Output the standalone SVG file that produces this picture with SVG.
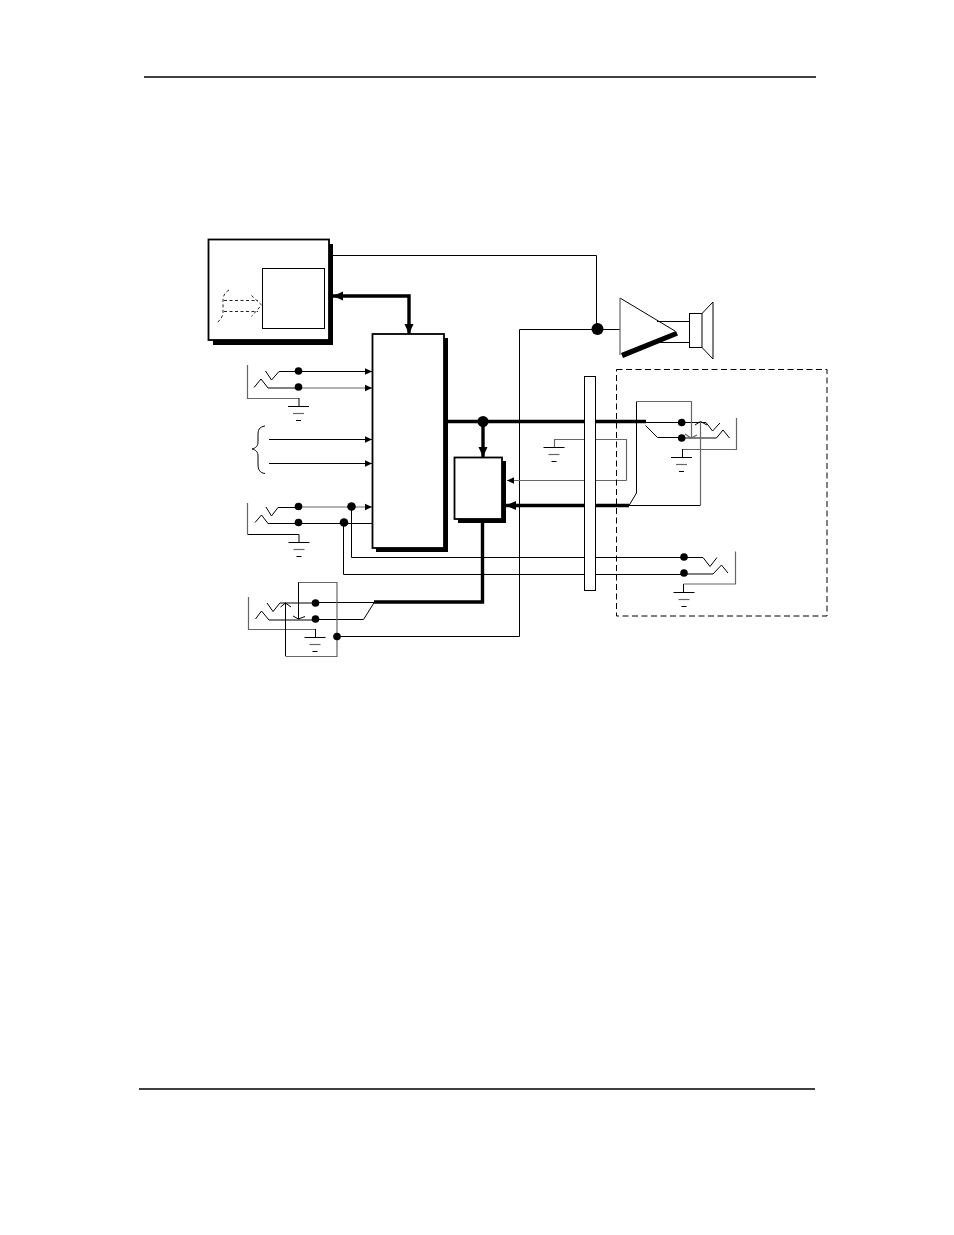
<svg xmlns="http://www.w3.org/2000/svg" width="954" height="1235" viewBox="0 0 954 1235">
<style>
.k{fill:none;stroke:#000;stroke-width:1}
.g{fill:none;stroke:#666;stroke-width:1.2}
.t{fill:none;stroke:#000;stroke-width:3.4}
.box{fill:#fff;stroke:#000;stroke-width:1.8}
.thin{fill:#fff;stroke:#000;stroke-width:1}
.sh{fill:#000}
.d{fill:#000}
.da{fill:none;stroke:#000;stroke-width:1;stroke-dasharray:6 3.500}
.du{fill:none;stroke:#222;stroke-width:1;stroke-dasharray:3 2.500}
</style>
<defs>
<marker id="a" markerUnits="userSpaceOnUse" markerWidth="8" markerHeight="8" refX="7" refY="4" orient="auto"><path d="M0 .8L7 4L0 7.2Z" fill="#000"/></marker>
<marker id="b" markerUnits="userSpaceOnUse" markerWidth="11" markerHeight="10" refX="10" refY="5" orient="auto-start-reverse"><path d="M0 .5L10 5L0 9.500Z" fill="#000"/></marker>
<g id="gnd"><path class="k" d="M-10.500 0H10.500"/><path class="g" d="M-5.500 7H5.500"/><path class="k" d="M-2.500 14H2.500"/></g>
</defs>
<rect width="954" height="1235" fill="#fff"/>
<g id="page-rules">
<path class="k" style="stroke-width:1.600" d="M144 77H816"/>
<path class="k" style="stroke-width:1.600" d="M139 1089H815"/>
</g>
<g id="connectors">
<path class="k" d="M333 255.500H596.500V328"/>
<path class="k" d="M519.500 636.500V329.500H620"/>
<path class="t" marker-start="url(#b)" marker-end="url(#b)" d="M333 296H409V334"/>
<path class="k" marker-end="url(#a)" d="M298 371.500H372"/>
<path class="g" marker-end="url(#a)" d="M298 388H372"/>
<path class="k" marker-end="url(#a)" d="M269 439.500H372"/>
<path class="k" marker-end="url(#a)" d="M269 463.500H372"/>
<path class="g" marker-end="url(#a)" d="M298 507H372"/>
<path class="k" d="M298 523.500H372"/>
<path class="k" d="M351.500 507V557.500H684"/>
<path class="k" d="M343.500 523V574.500H684"/>
<path class="k" d="M315 602.500H375"/>
<path class="k" d="M315 619.500H363.500L374.500 602"/>
<path class="t" d="M374 602H482.500V521"/>
<path class="k" d="M337 636.500H519.500"/>
<path class="t" d="M448 421.500H646"/>
<path class="k" d="M645 422.500H682"/>
<path class="t" marker-end="url(#b)" d="M483 421.500V457"/>
<path class="k" d="M645.500 425.500L657.500 437.500H682"/>
<path class="t" marker-end="url(#b)" d="M629 505.500H506"/>
<path class="k" d="M629 505.500L636.500 493V401.500"/>
<path class="g" d="M636.500 401.500H691.500"/>
<path class="k" d="M629 505.500H700.500"/>
<path class="g" d="M554.500 447V439.500H626.500V480.500"/>
<path class="g" marker-end="url(#a)" d="M626.500 480.500H507"/>
</g>
<g id="controller">
<rect class="sh" x="213" y="244" width="120" height="101"/>
<rect class="box" x="208.500" y="239.500" width="120.500" height="100.500"/>
<rect class="thin" x="262.500" y="268.500" width="62" height="60"/>
<path class="du" d="M229 290C224 293 223 297 223 301V312C223 316 221 319 217 323"/>
<path class="du" d="M224 300.500H258M224 311.500H258M251.500 295.500L261.500 305L251.500 316.500"/>
</g>
<g id="main-block">
<rect class="sh" x="376" y="338" width="72" height="214"/>
<rect class="box" x="372.500" y="334" width="71.500" height="214"/>
</g>
<g id="sub-block">
<rect class="sh" x="458" y="461" width="48" height="62"/>
<rect class="box" x="454.500" y="457.500" width="47.500" height="61.500"/>
</g>
<g id="amp-speaker">
<path class="k" d="M657 321.500H689.500M660 342.500H689.500"/>
<path class="k" d="M620 298L675 331"/>
<path class="g" d="M620 298V355"/>
<path d="M621 353L676 331L678 335.500L623 358Z" fill="#000"/>
<rect class="thin" x="689.500" y="313.500" width="12.500" height="34"/>
<path class="k" d="M702 313.500L713 302V359L702 347.500"/>
</g>
<g id="bus-bar"><rect class="thin" x="584.500" y="376.500" width="11" height="214"/></g>
<g id="remote-outline"><rect class="da" x="616.500" y="369.500" width="210.500" height="246.500"/></g>
<g id="remote-ground"><use href="#gnd" x="554" y="447.500"/></g>
<g id="jack-1">
<path class="k" d="M265.500 371L271.500 380L279 371.500H295"/>
<path class="k" d="M254 387.500L261 379L268 388H295"/>
<path class="g" d="M247.500 365V398.500H299"/><path class="k" d="M299 398V406"/>
<use href="#gnd" x="298.500" y="406.500"/>
<circle class="d" cx="298.500" cy="371" r="3.800"/><circle class="d" cx="298.500" cy="387" r="3.800"/>
</g>
<g id="brace-inputs"><path class="k" d="M265 426C259 427 258 430 258 435V442C258 446 256 448 252 449C256 450 258 452 258 456V464C258 470 260 473 265 473.500"/></g>
<g id="jack-2">
<path class="k" d="M266 507L271.500 516L278 507.500H295"/>
<path class="k" d="M255 522.500L261.500 515L268 523.500H295"/>
<path class="g" d="M247.500 503V534"/><path class="k" d="M247.500 534.500H299V542"/>
<use href="#gnd" x="299" y="542.500"/>
<circle class="d" cx="298.500" cy="506.500" r="3.800"/><circle class="d" cx="298.500" cy="522.500" r="3.800"/>
<circle class="d" cx="351.500" cy="506.500" r="4.300"/><circle class="d" cx="344" cy="522.500" r="4.300"/>
</g>
<g id="jack-3">
<path class="k" d="M267 603L273 611.500L280 603H315"/>
<path class="k" d="M255.500 619L261.500 611L269 620H315"/>
<path class="g" d="M248.500 597V629.500H315.500"/><path class="k" d="M315.500 629V637"/>
<use href="#gnd" x="315" y="637.500"/>
<path class="k" d="M285.500 656V603M280.500 607L285.500 603L291 607"/>
<path class="k" d="M298.500 582V619M293 616L298.500 619L305 616.500"/>
<path class="g" d="M298.500 582.500H337V656.500H285.500"/>
<circle class="d" cx="315.500" cy="603" r="3.800"/><circle class="d" cx="315.500" cy="619" r="3.800"/>
<circle class="d" cx="337" cy="636.500" r="3.800"/>
</g>
<g id="junctions">
<circle class="d" cx="597.500" cy="329" r="6"/>
<circle class="d" cx="483" cy="421.500" r="5.500"/>
</g>
<g id="remote-jack-1">
<path class="k" d="M682 422.500H706L712.500 431L720 423"/>
<path class="k" d="M682 438H716.500L723 430L729.500 438"/>
<path class="k" d="M695 425L700.500 421.500L707 425"/>
<path class="g" d="M700.500 422V505"/>
<path class="g" d="M691.500 401.500V437.500M685 434L691 438L697 435"/>
<path class="g" d="M736.500 418V449.500H682.500"/><path class="k" d="M682.500 449V457"/>
<use href="#gnd" x="681.500" y="457.500"/>
<circle class="d" cx="681.700" cy="422.500" r="3.800"/><circle class="d" cx="681.700" cy="438" r="3.800"/>
</g>
<g id="remote-jack-2">
<path class="k" d="M684 557.500H703L710 566.500L717 557.500"/>
<path class="k" d="M684 574H713L721.500 565L728 573"/>
<path class="g" d="M735.500 551.500V584H683.500"/><path class="k" d="M683.500 584V592"/>
<use href="#gnd" x="684" y="592.500"/>
<circle class="d" cx="684" cy="557" r="3.800"/><circle class="d" cx="684" cy="573" r="3.800"/>
</g>
</svg>
